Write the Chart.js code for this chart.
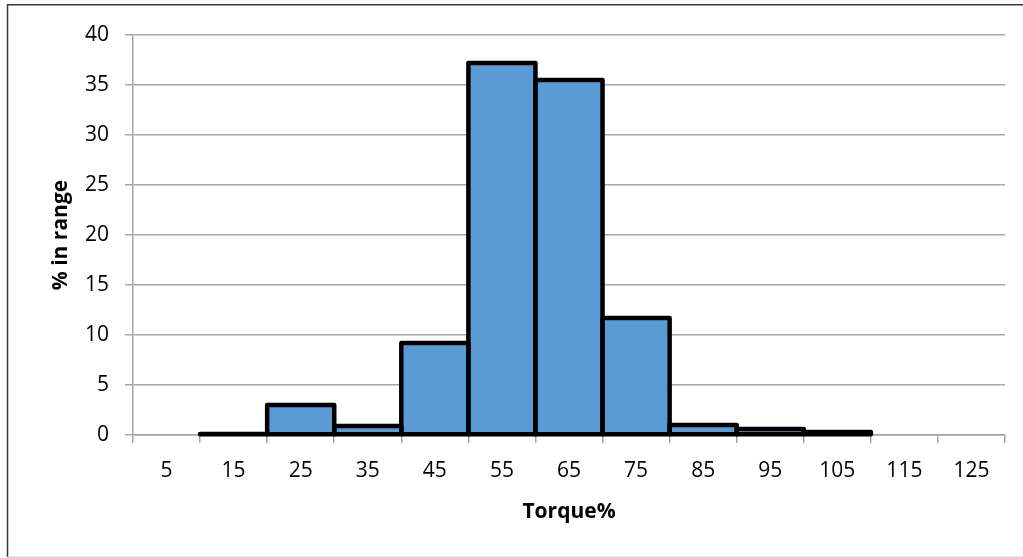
<!DOCTYPE html>
<html>
<head>
<meta charset="utf-8">
<script src="https://cdn.jsdelivr.net/npm/chart.js@4/dist/chart.umd.min.js"></script>
<style>
  html, body { margin: 0; padding: 0; background: #fff; }
  #wrap { position: relative; width: 1023px; height: 558px; }
</style>
</head>
<body>
<div id="wrap"><canvas id="c" width="1023" height="558"></canvas></div>
<script>
// Torque distribution: share of time (%) spent in each 10% torque band
const categories = ['5', '15', '25', '35', '45', '55', '65', '75', '85', '95', '105', '115', '125'];
const percentInRange = [0, 0.1, 3.0, 0.9, 9.2, 37.2, 35.5, 11.7, 1.0, 0.6, 0.3, 0, 0];
const yTicks = [0, 5, 10, 15, 20, 25, 30, 35, 40];

const FONT = "'Open Sans', 'DejaVu Sans', sans-serif";
const GRID = '#a6a6a6';

// Outer frame of the chart object
const framePlugin = {
  id: 'frame',
  beforeDraw(chart) {
    const ctx = chart.ctx;
    ctx.save();
    ctx.fillStyle = '#fff';
    ctx.fillRect(0, 0, chart.width, chart.height);
    ctx.lineWidth = 1.5;
    ctx.strokeStyle = '#3a3a3a';
    ctx.beginPath();
    ctx.moveTo(7.5, 557);
    ctx.lineTo(7.5, 4.75);
    ctx.lineTo(1023, 4.75);
    ctx.stroke();
    ctx.strokeStyle = '#d4d4d4';
    ctx.beginPath();
    ctx.moveTo(7.5, 557.25);
    ctx.lineTo(1023, 557.25);
    ctx.stroke();
    ctx.restore();
  }
};

// Heavy black outline centred on each bar's edges (adjacent bars share an edge)
const outlinePlugin = {
  id: 'barOutline',
  afterDatasetsDraw(chart) {
    const ctx = chart.ctx;
    const meta = chart.getDatasetMeta(0);
    ctx.save();
    ctx.strokeStyle = '#000';
    ctx.lineWidth = 4.5;
    ctx.lineJoin = 'round';
    meta.data.forEach((bar, i) => {
      if (!percentInRange[i]) return;
      const p = bar.getProps(['x', 'y', 'base', 'width'], true);
      const left = p.x - p.width / 2;
      ctx.strokeRect(left, p.y, p.width, p.base - p.y);
    });
    ctx.restore();
  }
};

new Chart(document.getElementById('c'), {
  type: 'bar',
  data: {
    labels: categories,
    datasets: [{
      data: percentInRange,
      backgroundColor: '#5b9bd5',
      borderWidth: 0,
      categoryPercentage: 1.0,
      barPercentage: 1.0
    }]
  },
  options: {
    responsive: false,
    animation: false,
    devicePixelRatio: 1,
    layout: { padding: { top: 35, right: 18, bottom: 0, left: 0 } },
    plugins: {
      legend: { display: false },
      tooltip: { enabled: false }
    },
    scales: {
      x: {
        grid: {
          display: true,
          drawOnChartArea: false,
          drawTicks: true,
          offset: true,
          tickLength: 8,
          color: GRID,
          lineWidth: 1.5
        },
        border: { display: true, color: GRID, width: 1.5 },
        ticks: {
          color: '#000',
          font: { family: FONT, size: 21 },
          padding: 15,
          maxRotation: 0,
          autoSkip: false
        },
        title: {
          display: true,
          text: 'Torque%',
          color: '#000',
          font: { family: FONT, size: 21, weight: 'bold' },
          padding: { top: 0, bottom: 33 }
        },
        afterFit(scale) { scale.height = 123; }
      },
      y: {
        min: 0,
        max: 40,
        afterBuildTicks(scale) { scale.ticks = yTicks.map(v => ({ value: v })); },
        grid: {
          color: GRID,
          lineWidth: 1.5,
          drawTicks: true,
          tickLength: 8
        },
        border: { display: true, color: GRID, width: 1.5 },
        ticks: {
          color: '#000',
          font: { family: FONT, size: 21 },
          padding: 16
        },
        title: {
          display: true,
          text: '% in range',
          color: '#000',
          font: { family: FONT, size: 21, weight: 'bold' },
          padding: { top: 48, bottom: 0 }
        },
        afterFit(scale) { scale.width = 133; }
      }
    }
  },
  plugins: [framePlugin, outlinePlugin]
});
</script>
</body>
</html>
